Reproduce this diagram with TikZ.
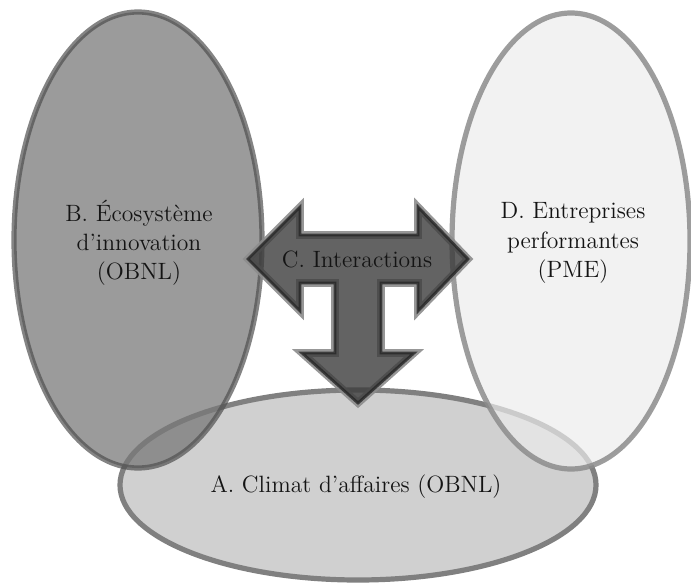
\documentclass[tikz,border=0pt]{standalone}
\usepackage{fontspec}
\definecolor{fondA}{RGB}{208,208,208}
\definecolor{traitA}{RGB}{128,128,128}
\definecolor{fondB}{RGB}{121,121,121}
\definecolor{traitB}{RGB}{80,80,80}
\definecolor{fondD}{RGB}{236,236,236}
\definecolor{traitD}{RGB}{140,140,140}
\definecolor{fondC}{RGB}{60,60,60}
\definecolor{halo}{RGB}{140,140,140}
\begin{document}
\begin{tikzpicture}[x=0.5pt,y=-0.5pt,
        bulle/.style={line width=2.6pt},
        fleche/.style={fill=fondC,fill opacity=0.8,draw=black!85,draw opacity=0.8,line width=1.4pt,
            preaction={draw=halo,line width=3.8pt,draw opacity=0.9}},
        etiquette/.style={align=center,text=black!92,font=\fontsize{11.8}{14.6}\selectfont}]
        \useasboundingbox (0,0) rectangle (691,583);

        \draw[bulle,draw=traitA,fill=fondA] (358,485) ellipse [x radius=238,y radius=95];
        \draw[bulle,draw=traitB,fill=fondB,fill opacity=0.75,draw opacity=0.7] (138,240) ellipse [x radius=124,y radius=228];
        \draw[bulle,draw=traitD,fill=fondD,fill opacity=0.7,draw opacity=0.85] (571,241) ellipse [x radius=119,y radius=228];

        \draw[fleche] (248,259) -- (300,207) -- (300,235) -- (418,235) -- (418,207) -- (468,259)
            -- (418,311) -- (418,283) -- (381,283) -- (381,353) -- (414,353) -- (358,403)
            -- (302,353) -- (335,353) -- (335,283) -- (300,283) -- (300,311) -- cycle;

            \node[etiquette] (ecosysteme) at (139,243) {B. Écosystème\\d'innovation\\(OBNL)};
            \node[etiquette] (entreprises) at (573,243) {D. Entreprises\\performantes\\(PME)};
            \node[etiquette] (interactions) at (357,259) {C. Interactions};
            \node[etiquette] (climat) at (356,487) {A. Climat d'affaires (OBNL)};
    \end{tikzpicture}
\end{document}
